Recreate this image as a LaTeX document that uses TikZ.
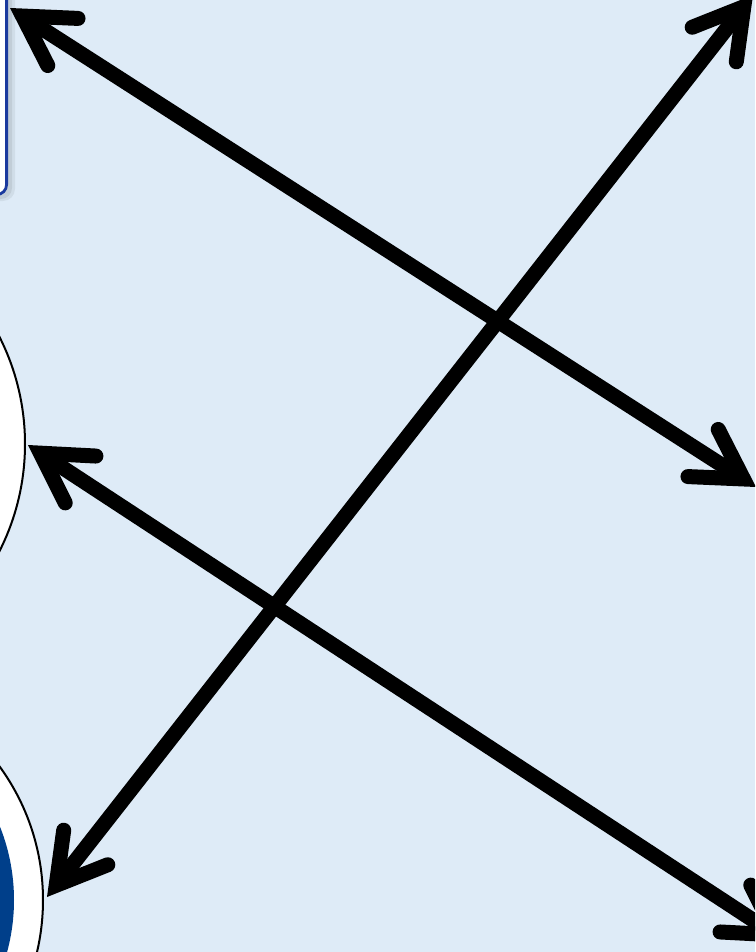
\documentclass[tikz,border=0pt]{standalone}
\usetikzlibrary{arrows.meta}
\definecolor{bgblue}{HTML}{DEEBF7}
\definecolor{boxblue}{HTML}{1A3A9E}
\definecolor{deepblue}{HTML}{003F8A}
\begin{document}
\begin{tikzpicture}[x=1pt,y=-1pt,
  barb/.tip={Straight Barb[length=48pt,width=56pt,line cap=round,line join=miter]},
  link/.style={line width=15pt, barb-barb},
  panelbox/.style={draw=boxblue, line width=2.8pt, fill=white, rounded corners=10pt, inner sep=0pt},
  disc/.style={circle, draw=black, line width=2pt, fill=white, inner sep=0pt},
  core/.style={circle, fill=deepblue, inner sep=0pt}]
\useasboundingbox (0,0) rectangle (755,952);
\clip (0,0) rectangle (755,952);
\fill[bgblue] (0,0) rectangle (755,952);
% shadow of the panel
\fill[black, opacity=0.06, rounded corners=12pt] (-60,-60) rectangle (15,201);
\fill[black, opacity=0.07, rounded corners=11pt] (-60,-60) rectangle (12,199);
% shapes
\node[panelbox, minimum width=120pt, minimum height=300pt, anchor=south east] (panel) at (8,196) {};
\node[disc, minimum size=474pt] (ring1) at (-212,444) {};
\node[disc, minimum size=454pt] (ring2) at (-184,900) {};
\node[core, minimum size=396pt] (core2) at (ring2.center) {};
% end points
\coordinate (a1) at (10,8);
\coordinate (b1) at (756,487);
\coordinate (a2) at (47,897);
\coordinate (b2) at (753,-5);
\coordinate (a3) at (28,445);
\coordinate (b3) at (788,943);
% connectors
\draw[link] (a1) -- (b1);
\draw[link] (a2) -- (b2);
\draw[link] (a3) -- (b3);
\end{tikzpicture}
\end{document}
